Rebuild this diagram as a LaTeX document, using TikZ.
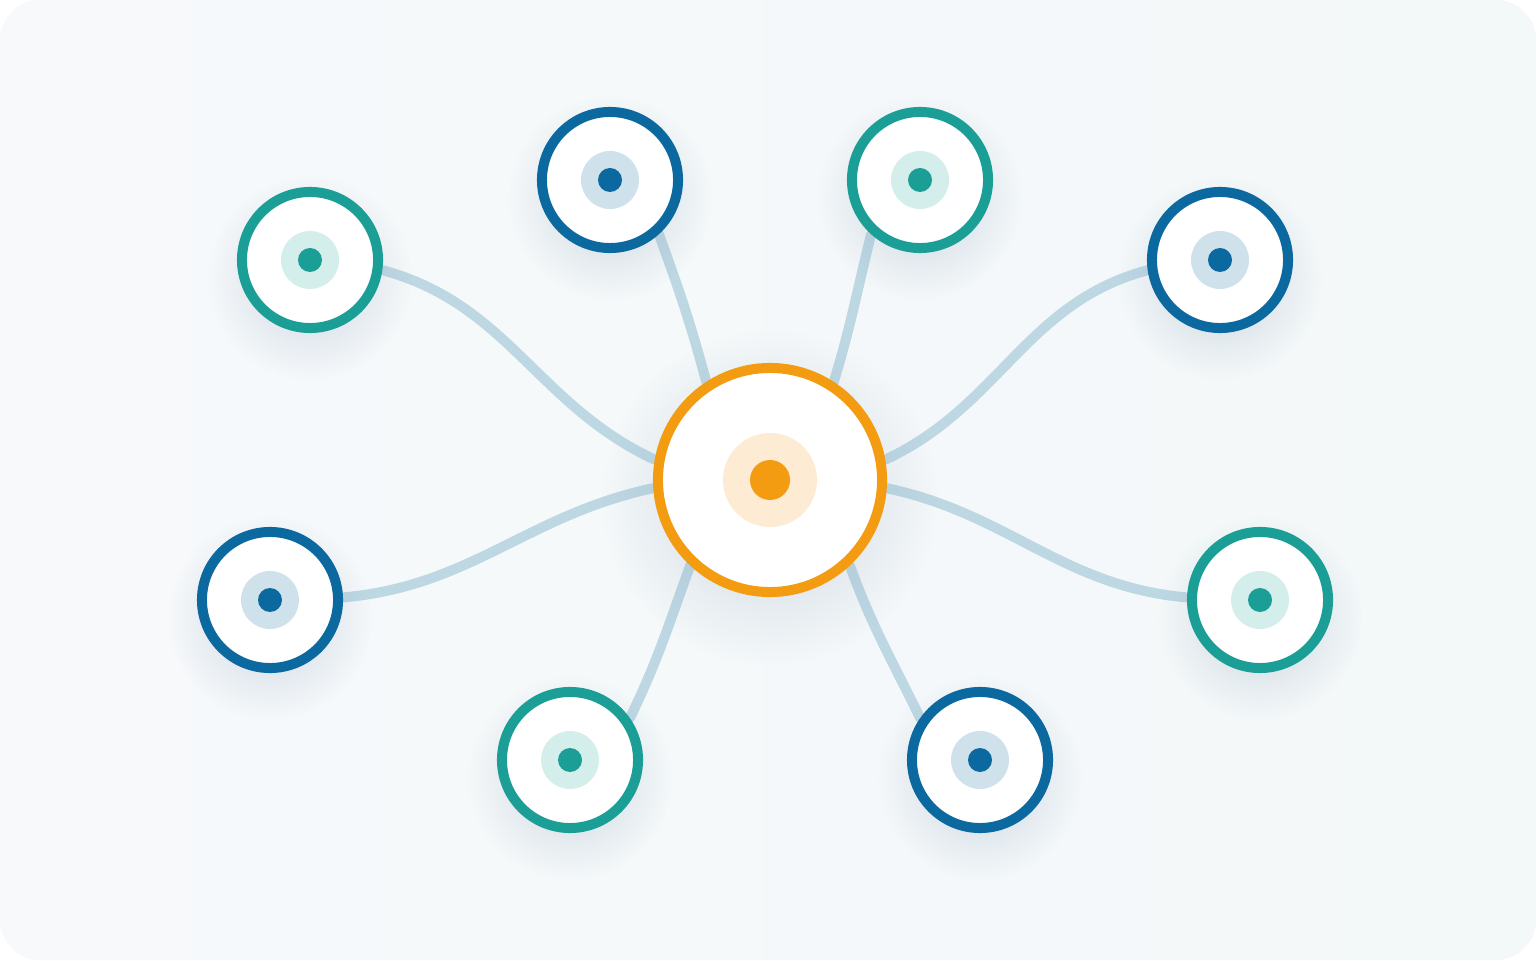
\documentclass[tikz,border=0pt]{standalone}
\usetikzlibrary{shadows,fadings}
\definecolor{ringteal}{HTML}{1A9E96}
\definecolor{softteal}{HTML}{D3EEEB}
\definecolor{ringblue}{HTML}{0B69A0}
\definecolor{softblue}{HTML}{CFE2EC}
\definecolor{ringhub}{HTML}{F39C12}
\definecolor{softhub}{HTML}{FDEBD3}
\definecolor{wirec}{HTML}{BDD7E3}
\definecolor{shadowc}{HTML}{8EA3BA}
\definecolor{bgleft}{HTML}{F7F9FB}
\definecolor{bgright}{HTML}{F3F8F9}
\pgfdeclarelayer{back}
\pgfdeclarelayer{wires}
\pgfsetlayers{back,wires,main}
\tikzfading[name=softglow, inner color=transparent!20, outer color=transparent!100]
\begin{document}
\begin{tikzpicture}[x=0.01cm,y=0.01cm,
    glow/.style={general shadow={fill=shadowc, opacity=0.5, shadow scale=1.5,
        shadow yshift=-0.12cm, path fading=softglow}},
    sat/.style={circle, minimum size=1.36cm, inner sep=0pt, line width=0.1cm,
        fill=white, glow},
    hubnode/.style={circle, minimum size=2.24cm, inner sep=0pt, line width=0.1cm,
        fill=white, draw=ringhub, glow},
    wire/.style={line width=0.1cm, draw=wirec, line cap=round}]
    \begin{pgfonlayer}{back}
        \shade[left color=bgleft, right color=bgright, rounded corners=0.4cm]
            (0,0) rectangle (1536,960);
    \end{pgfonlayer}
    % hub
    \node[hubnode] (hub) at (770,480) {};
    \fill[softhub] (hub) circle[radius=47];
    \fill[ringhub] (hub) circle[radius=20];
    % satellites
    \foreach \name/\px/\py/\tone in {s1/310/700/teal, s2/610/780/blue, s3/920/780/teal,
        s4/1220/700/blue, s5/270/360/blue, s6/1260/360/teal, s7/570/200/teal, s8/980/200/blue}
    {
        \node[sat, draw=ring\tone] (\name) at (\px,\py) {};
        \fill[soft\tone] (\name) circle[radius=29];
        \fill[ring\tone] (\name) circle[radius=12];
    }
    \begin{pgfonlayer}{wires}
        \draw[wire] (s1.-8) to[out=-15,in=155] (hub.170);
        \draw[wire] (s2.-48) to[out=-70,in=105] (hub.123);
        \draw[wire] (s3.-132) to[out=-104,in=73] (hub.57);
        \draw[wire] (s4.-172) to[out=-165,in=25] (hub.10);
        \draw[wire] (s5.2) to[out=5,in=-168] (hub.184);
        \draw[wire] (s6.178) to[out=175,in=-12] (hub.-4);
        \draw[wire] (s7.35) to[out=64,in=-110] (hub.-133);
        \draw[wire] (s8.145) to[out=116,in=-70] (hub.-47);
    \end{pgfonlayer}
\end{tikzpicture}
\end{document}
